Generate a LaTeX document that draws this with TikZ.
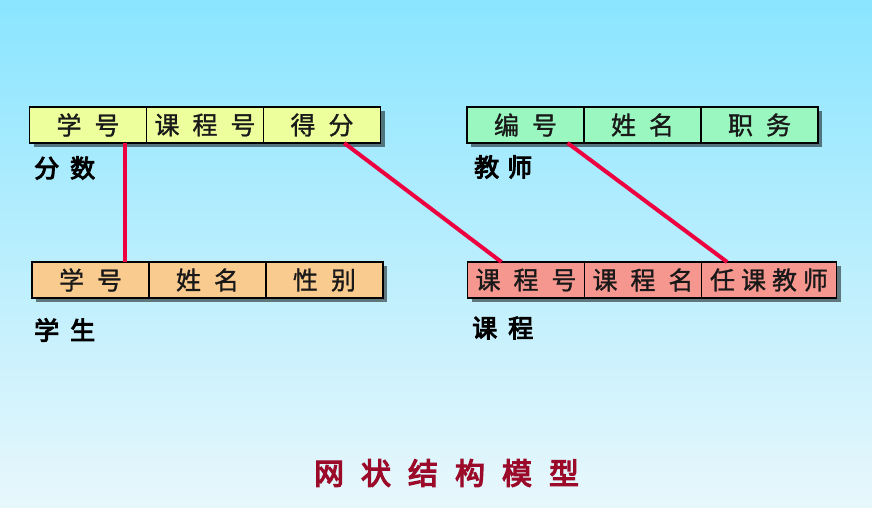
\documentclass[tikz,border=0pt]{standalone}
\usepackage{fontspec}
\newfontfamily\cjk[AutoFakeBold=1.2]{Noto Sans CJK SC}
\newfontfamily\cjkheavy[AutoFakeBold=4]{Noto Sans CJK SC}
\usetikzlibrary{positioning,calc,shadows}
\definecolor{bgtop}{HTML}{8AE5FF}
\definecolor{bgbot}{HTML}{E8F7FC}
\definecolor{score}{HTML}{EDFF9C}
\definecolor{teacher}{HTML}{9AF7BF}
\definecolor{student}{HTML}{FACB8E}
\definecolor{course}{HTML}{F5978F}
\definecolor{linkred}{HTML}{EC0040}
\definecolor{titlered}{HTML}{9C0A2A}
\newcommand{\gp}{\hskip 13pt}
\tikzset{
  cell/.style={draw=black, line width=1.6pt, minimum width=117pt, minimum height=36pt,
               inner sep=0pt, outer sep=0pt, text=black!90,
               font=\cjk\bfseries\fontsize{25}{25}\selectfont,
               drop shadow={shadow xshift=4pt, shadow yshift=-4pt, opacity=0.5, fill=black}},
  tag/.style={anchor=west, inner sep=0pt, text=black, font=\cjkheavy\bfseries\fontsize{25}{25}\selectfont},
  link/.style={draw=linkred, line width=4pt},
}

\begin{document}
\begin{tikzpicture}[x=1pt, y=1pt]

% ---------------- background ----------------
\shade[top color=bgtop, bottom color=bgbot] (0,0) rectangle (872,507);
\useasboundingbox (0,0) rectangle (872,507);

% ---------------- 分数 ----------------
\node[cell, fill=score] (fs1) at (88,382) {学\gp 号};
\node[cell, fill=score, right=0pt of fs1] (fs2) {课\gp 程\gp 号};
\node[cell, fill=score, right=0pt of fs2] (fs3) {得\gp 分};
\node[tag] (fstag) at (34,339) {分\hskip11pt 数};

% ---------------- 教师 ----------------
\node[cell, fill=teacher] (js1) at (525.5,382) {编\gp 号};
\node[cell, fill=teacher, right=0pt of js1] (js2) {姓\gp 名};
\node[cell, fill=teacher, right=0pt of js2] (js3) {职\gp 务};
\node[tag] (jstag) at (474,340) {教\hskip8pt 师};

% ---------------- 学生 ----------------
\node[cell, fill=student] (xs1) at (90.5,227) {学\gp 号};
\node[cell, fill=student, right=0pt of xs1] (xs2) {姓\gp 名};
\node[cell, fill=student, right=0pt of xs2] (xs3) {性\gp 别};
\node[tag] (xstag) at (34,177) {学\hskip11pt 生};

% ---------------- 课程 ----------------
\node[cell, fill=course] (kc1) at (526,227) {课\gp 程\gp 号};
\node[cell, fill=course, right=0pt of kc1] (kc2) {课\gp 程\gp 名};
\node[cell, fill=course, minimum width=135pt, right=0pt of kc2] (kc3) {任\hskip6pt 课\hskip6pt 教\hskip6pt 师};
\node[tag] (kctag) at (472,179) {课\hskip11pt 程};

% ---------------- links ----------------
\draw[link] ($(fs1.south west)!0.82!(fs1.south east)$) coordinate (a) -- (a |- xs1.north);
\draw[link] ($(fs3.south west)!0.69!(fs3.south east)$) -- ($(kc1.north west)!0.29!(kc1.north east)$);
\draw[link] ($(js1.south west)!0.86!(js1.south east)$) -- ($(kc3.north west)!0.19!(kc3.north east)$);

% ---------------- title ----------------
\node[text=titlered, font=\cjkheavy\bfseries\fontsize{30}{30}\selectfont] (title) at (446.5,34)
  {网\hskip17pt 状\hskip17pt 结\hskip17pt 构\hskip17pt 模\hskip17pt 型};

\end{tikzpicture}
\end{document}
